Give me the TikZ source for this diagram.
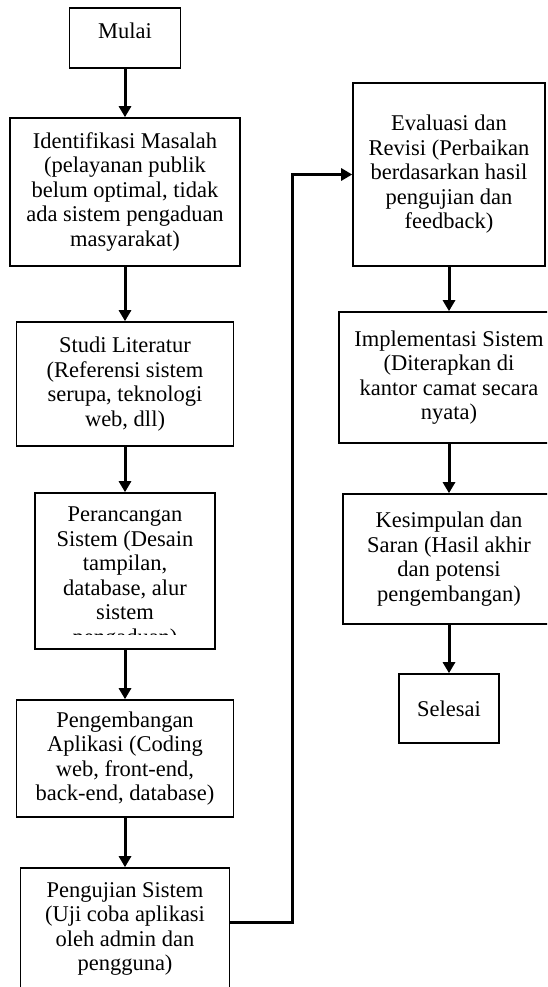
\documentclass[tikz,border=0pt]{standalone}
\usepackage{fontspec}
\setmainfont{Liberation Serif}
\usetikzlibrary{arrows.meta}
\begin{document}
\begin{tikzpicture}[x=1pt,y=-1pt,
  box/.style={draw,line width=1.6pt,align=center,inner sep=2pt,font=\fontsize{22.5pt}{24.5pt}\selectfont},
  flow/.style={line width=3pt,-{Triangle[width=12pt,length=11pt]}}]
\useasboundingbox (0,0) rectangle (547,987);
\clip (0,0) rectangle (547,987);
\node[box,minimum width=111pt,minimum height=60pt,text depth=14pt] (mulai) at (125,38) {Mulai};
\node[box,minimum width=230pt,minimum height=148pt] (masalah) at (125,192) {Identifikasi Masalah\\(pelayanan publik\\belum optimal, tidak\\ada sistem pengaduan\\masyarakat)};
\node[box,minimum width=217pt,minimum height=124pt] (studi) at (125,384) {Studi Literatur\\(Referensi sistem\\serupa, teknologi\\web, dll)};
\node[box,minimum width=180pt,minimum height=156pt] (desain) at (125,571) {};
\begin{scope}
\clip ([yshift=15pt]desain.south west) rectangle ([yshift=-2pt]desain.north east);
\node[box,draw=none] (desaintext) at (125,578) {Perancangan\\Sistem (Desain\\tampilan,\\database, alur\\sistem\\pengaduan)};
\end{scope}
\node[box,minimum width=217pt,minimum height=117pt] (aplikasi) at (125,758.5) {Pengembangan\\Aplikasi (Coding\\web, front-end,\\back-end, database)};
\node[box,minimum width=209pt,minimum height=122pt] (uji) at (125,929) {Pengujian Sistem\\(Uji coba aplikasi\\oleh admin dan\\pengguna)};
\node[box,minimum width=192pt,minimum height=183pt] (evaluasi) at (449,174.5) {Evaluasi dan\\Revisi (Perbaikan\\berdasarkan hasil\\pengujian dan\\feedback)};
\node[box,minimum width=220pt,minimum height=131pt] (implementasi) at (449,377.5) {Implementasi Sistem\\(Diterapkan di\\kantor camat secara\\nyata)};
\node[box,minimum width=212pt,minimum height=130pt] (kesimpulan) at (449,559) {Kesimpulan dan\\Saran (Hasil akhir\\dan potensi\\pengembangan)};
\node[box,minimum width=100pt,minimum height=69pt] (selesai) at (449,708.5) {Selesai};
\coordinate (turn) at (292,0);
\draw[flow] (mulai) -- (masalah);
\draw[flow] (masalah) -- (studi);
\draw[flow] (studi) -- (desain);
\draw[flow] (desain) -- (aplikasi);
\draw[flow] (aplikasi) -- (uji);
\draw[flow] ([yshift=7pt]uji.east) -- ([yshift=7pt]uji.east -| turn) |- (evaluasi.west);
\draw[flow] (evaluasi) -- (implementasi);
\draw[flow] (implementasi) -- (kesimpulan);
\draw[flow] (kesimpulan) -- (selesai);
\end{tikzpicture}
\end{document}
